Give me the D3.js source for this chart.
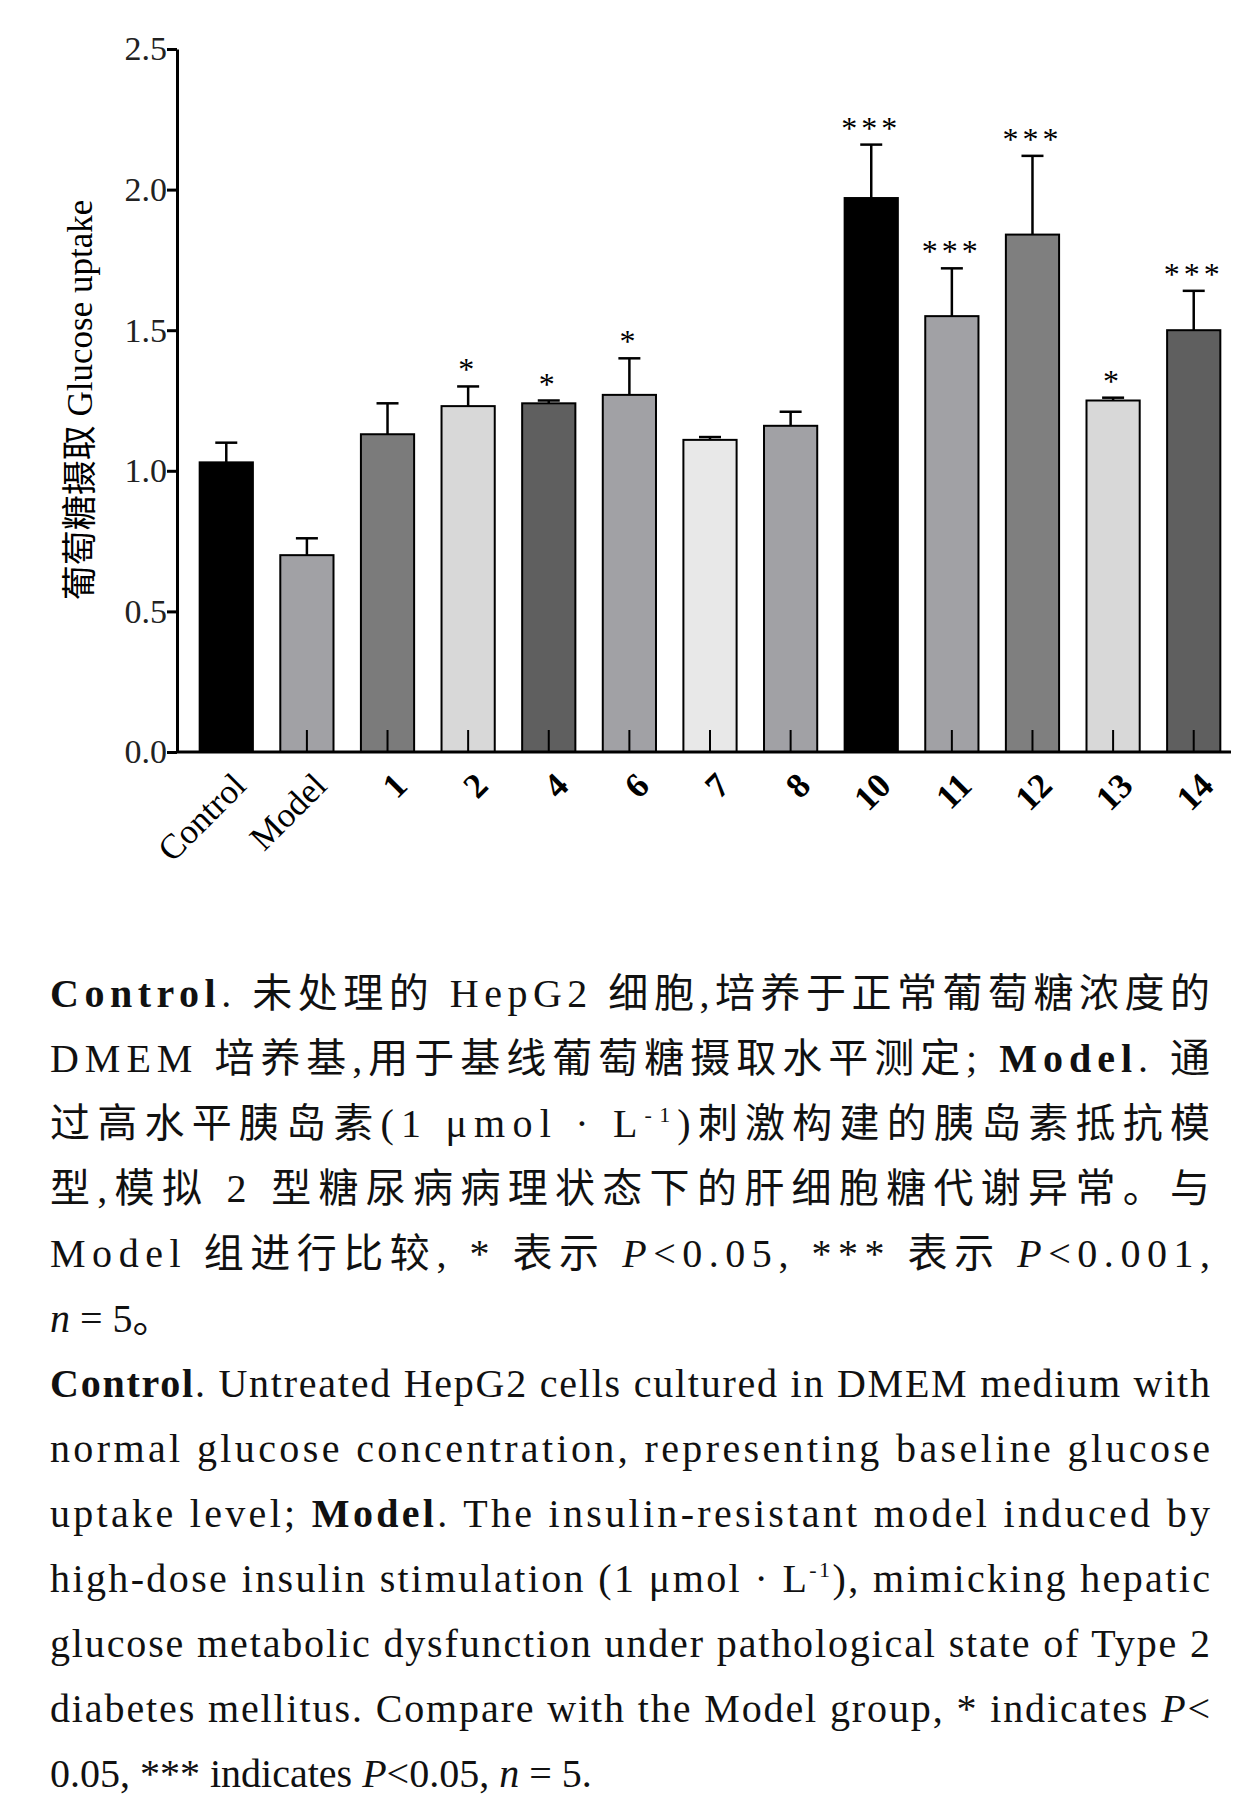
<!DOCTYPE html>
<html><head><meta charset="utf-8">
<script src="https://cdn.jsdelivr.net/npm/d3@7"></script>
<style>body{margin:0;background:#fff}</style>
</head><body>
<script>
// data
var groups = ["Control","Model","1","2","4","6","7","8","10","11","12","13","14"];
var means  = [1.03,0.70,1.13,1.23,1.24,1.27,1.11,1.16,1.97,1.55,1.84,1.25,1.50];
var errs   = [0.07,0.06,0.11,0.07,0.01,0.13,0.01,0.05,0.19,0.17,0.28,0.01,0.14];
var marks  = ["","","","*","*","*","","","***","***","***","*","***"];
var fills  = ["#000","#a1a1a5","#7b7b7b","#d8d8d8","#5f5f5f","#a1a1a5","#e8e8e8","#a1a1a5","#000","#a1a1a5","#7f7f7f","#d8d8d8","#5f5f5f"];
var yTicks = [0,0.5,1.0,1.5,2.0,2.5];

var W = 1256, H = 1803;
var svg = d3.select("body").append("svg").attr("width",W).attr("height",H);
var serif = "'Liberation Serif','Noto Sans CJK SC',serif";

var x = d3.scaleBand().domain(groups).range([190,1230]).paddingInner(0.34).paddingOuter(0.12);
var y = d3.scaleLinear().domain([0,2.5]).range([752,49]);

var g = svg.append("g");
var bars = g.selectAll(".bar").data(groups).enter().append("g");
bars.append("rect")
  .attr("x",function(d){return x(d);}).attr("width",x.bandwidth())
  .attr("y",function(d,i){return y(means[i]);})
  .attr("height",function(d,i){return y(0)-y(means[i]);})
  .attr("fill",function(d,i){return fills[i];})
  .attr("stroke","#000").attr("stroke-width",2);
// error bars
bars.append("line")
  .attr("x1",function(d){return x(d)+x.bandwidth()/2;}).attr("x2",function(d){return x(d)+x.bandwidth()/2;})
  .attr("y1",function(d,i){return y(means[i]);}).attr("y2",function(d,i){return y(means[i]+errs[i]);})
  .attr("stroke","#000").attr("stroke-width",2.5);
bars.append("line")
  .attr("x1",function(d){return x(d)+x.bandwidth()/2-11;}).attr("x2",function(d){return x(d)+x.bandwidth()/2+11;})
  .attr("y1",function(d,i){return y(means[i]+errs[i]);}).attr("y2",function(d,i){return y(means[i]+errs[i]);})
  .attr("stroke","#000").attr("stroke-width",2.5);
bars.append("line")
  .attr("x1",function(d){return x(d)+x.bandwidth()/2;}).attr("x2",function(d){return x(d)+x.bandwidth()/2;})
  .attr("y1",y(0)).attr("y2",y(0)-22)
  .attr("stroke","#000").attr("stroke-width",2);
bars.append("text")
  .attr("x",function(d){return x(d)+x.bandwidth()/2;})
  .attr("y",function(d,i){return y(means[i]+errs[i])-6;})
  .attr("text-anchor","middle").attr("font-family",serif).attr("font-size",32)
  .attr("letter-spacing",4)
  .text(function(d,i){return marks[i];});

// axes
var ya = d3.axisLeft(y).tickValues(yTicks).tickFormat(d3.format(".1f")).tickSize(10).tickSizeOuter(0);
var yg = svg.append("g").attr("transform","translate(177,0)").call(ya);
yg.select(".domain").attr("stroke-width",3);
yg.selectAll(".tick line").attr("stroke-width",3);
yg.selectAll("text").attr("font-family",serif).attr("font-size",34).attr("fill","#222").attr("x",-10);

svg.append("line").attr("x1",176).attr("x2",1231).attr("y1",y(0)).attr("y2",y(0))
  .attr("stroke","#000").attr("stroke-width",3);

svg.selectAll(".xl").data(groups).enter().append("text")
  .attr("transform",function(d){return "translate("+(x(d)+x.bandwidth()/2+16)+","+(y(0)+30)+") rotate(-45)";})
  .attr("text-anchor","end").attr("dominant-baseline","middle")
  .attr("font-family",serif).attr("font-size",35)
  .attr("font-weight",function(d,i){return i<2?"normal":"bold";})
  .text(function(d){return d;});

svg.append("text").attr("transform","translate(92,400) rotate(-90)")
  .attr("text-anchor","middle").attr("font-family",serif).attr("font-size",35)
  .text("葡萄糖摄取 Glucose uptake");

// caption
var lines = [
  [[["Control","b"],[". 未处理的 HepG2 细胞,培养于正常葡萄糖浓度的",""]],1],
  [[["DMEM 培养基,用于基线葡萄糖摄取水平测定; ",""],["Model","b"],[". 通",""]],1],
  [[["过高水平胰岛素(1 μmol · L",""],["-1","s"],[")刺激构建的胰岛素抵抗模",""]],1],
  [[["型,模拟 2 型糖尿病病理状态下的肝细胞糖代谢异常。与",""]],1],
  [[["Model 组进行比较, * 表示 ",""],["P","i"],["<0.05,  *** 表示 ",""],["P","i"],["<0.001,",""]],1],
  [[["n","i"],[" = 5。",""]],0],
  [[["Control","b"],[". Untreated HepG2 cells cultured in DMEM medium with",""]],1],
  [[["normal glucose concentration, representing baseline glucose",""]],1],
  [[["uptake level; ",""],["Model","b"],[". The insulin-resistant model induced by",""]],1],
  [[["high-dose insulin stimulation (1 μmol · L",""],["-1","s"],["), mimicking hepatic",""]],1],
  [[["glucose metabolic dysfunction under pathological state of Type 2",""]],1],
  [[["diabetes mellitus. Compare with the Model group, * indicates ",""],["P","i"],["<",""]],1],
  [[["0.05, *** indicates ",""],["P","i"],["<0.05, ",""],["n","i"],[" = 5.",""]],0]
];
var lineY = [1007,1072,1137,1202,1267,1332,1397,1462,1527,1592,1657,1722,1787];
lines.forEach(function(l,i){
  var t = svg.append("text").attr("x",50).attr("y",lineY[i])
    .attr("font-family",serif).attr("font-size",40).attr("fill","#111");
  l[0].forEach(function(p){
    var s = t.append("tspan").text(p[0]);
    if(p[1]=="b") s.attr("font-weight","bold");
    if(p[1]=="i") s.attr("font-style","italic");
    if(p[1]=="s") s.attr("font-size",22).attr("dy",-15);
    else if(p[1]=="" && s.node().previousSibling && d3.select(s.node().previousSibling).attr("dy")) s.attr("dy",15);
  });
  if(l[1]) t.attr("textLength",1160).attr("lengthAdjust","spacing");
});
</script>
</body></html>
